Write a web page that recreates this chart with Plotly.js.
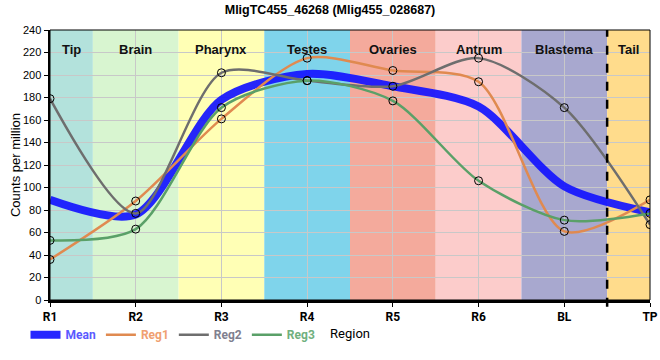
<!DOCTYPE html>
<html>
<head>
<meta charset="utf-8">
<script src="https://cdn.plot.ly/plotly-3.0.1.min.js"></script>
<style>html,body{margin:0;padding:0;background:#fff;}#chart{width:660px;height:360px;}</style>
</head>
<body>
<div id="chart"></div>
<script>
// ---- data ----
const regions = ["R1", "R2", "R3", "R4", "R5", "R6", "BL", "TP"];
const meanVals = [89, 76, 178, 201, 190, 172, 101, 78];
const reg1Vals = [36, 88, 161, 215, 204, 194, 61, 89];
const reg2Vals = [179, 77, 202, 195, 190, 215, 171, 67];
const reg3Vals = [53, 63, 171, 195, 177, 106, 71, 77];
const bandNames = ["Tip", "Brain", "Pharynx", "Testes", "Ovaries", "Antrum", "Blastema", "Tail"];
const bandColors = ["#b3e2dc", "#d8f5d0", "#ffffb5", "#7fd4eb", "#f4aa9c", "#fccccb", "#a8a8cf", "#ffdc8c"];

function lineTrace(name, vals, color, width, legendColor) {
  return {
    x: regions, y: vals, type: "scatter", mode: "lines",
    name: '<span style="color:' + legendColor + '">' + name + '</span>',
    line: {color: color, width: width, shape: "spline", smoothing: 0.8},
    hoverinfo: "skip"
  };
}
function markerTrace(vals) {
  return {
    x: regions, y: vals, type: "scatter", mode: "markers", showlegend: false,
    marker: {symbol: "circle-open", size: 8, color: "#000", line: {width: 1, color: "#000"}},
    hoverinfo: "skip"
  };
}

const traces = [
  lineTrace("Mean", meanVals, "rgba(20,20,255,0.92)", 8, "#5a5aff"),
  lineTrace("Reg1", reg1Vals, "#e08a50", 2.5, "#f0a070"),
  lineTrace("Reg2", reg2Vals, "#6e6e6e", 2.5, "#80808f"),
  lineTrace("Reg3", reg3Vals, "#5aa068", 2.5, "#70b07e"),
  markerTrace(reg1Vals), markerTrace(reg2Vals), markerTrace(reg3Vals)
];

// background bands
const shapes = [];
const annotations = [];
bandNames.forEach((nm, i) => {
  const x0 = i === 0 ? 0 : i - 0.5;
  const x1 = i === bandNames.length - 1 ? regions.length - 1 : i + 0.5;
  shapes.push({type: "rect", xref: "x", yref: "paper", x0: x0, x1: x1, y0: 0, y1: 1,
    fillcolor: bandColors[i], line: {width: 0}, layer: "below"});
  annotations.push({xref: "x", yref: "paper", x: (x0 + x1) / 2, y: 0.963, text: "<b>" + nm + "</b>",
    showarrow: false, font: {family: "Liberation Sans, Arial, sans-serif", size: 13, color: "#111"}});
});
// dashed separator between BL and TP
shapes.push({type: "line", xref: "x", yref: "paper", x0: 6.5, x1: 6.5, y0: -0.025, y1: 1,
  line: {color: "#000", width: 2.5, dash: "dash"}, layer: "above"});
// thin frame
shapes.push({type: "rect", xref: "paper", yref: "paper", x0: 0, x1: 1, y0: 0, y1: 1,
  line: {color: "#000", width: 1}, layer: "above"});

const layout = {
  width: 660, height: 360,
  margin: {l: 50, r: 10, t: 30, b: 60},
  paper_bgcolor: "#fff", plot_bgcolor: "#fff",
  font: {family: "Liberation Sans, Arial, sans-serif", color: "#000"},
  title: {text: "<b>MligTC455_46268 (Mlig455_028687)</b>", x: 0.5, xref: "container", xanchor: "center",
    y: 0.972, yref: "container", yanchor: "middle", font: {size: 12.5, family: "Liberation Sans, Arial, sans-serif"}},
  xaxis: {
    type: "category", categoryarray: regions, range: [0, regions.length - 1],
    showgrid: true, gridcolor: "#c8c8c8", gridwidth: 1,
    showline: true, linecolor: "#000", linewidth: 2.5,
    ticks: "outside", ticklen: 4, tickcolor: "#000",
    tickfont: {size: 12, family: "Roboto, sans-serif", weight: "bold"},
    title: {text: "Region", standoff: 6, font: {size: 13, family: "Roboto, sans-serif"}},
    zeroline: false, fixedrange: true
  },
  yaxis: {
    range: [0, 240], dtick: 20,
    showgrid: true, gridcolor: "#c8c8c8", gridwidth: 1,
    showline: true, linecolor: "#000", linewidth: 2.5,
    ticks: "outside", ticklen: 4, tickcolor: "#000",
    tickfont: {size: 11, family: "Liberation Sans, Arial, sans-serif"},
    title: {text: "Counts per million", standoff: 0, font: {size: 13, family: "Liberation Sans, Arial, sans-serif"}},
    zeroline: false, fixedrange: true
  },
  showlegend: true,
  legend: {orientation: "h", x: 0.205, xanchor: "center", y: -0.075, yanchor: "top",
    font: {size: 12, family: "Roboto, sans-serif", weight: "bold"}, itemwidth: 30, tracegroupgap: 0,
    bgcolor: "rgba(0,0,0,0)"},
  shapes: shapes,
  annotations: annotations
};

Plotly.newPlot("chart", traces, layout, {displayModeBar: false, staticPlot: true});
</script>
</body>
</html>
